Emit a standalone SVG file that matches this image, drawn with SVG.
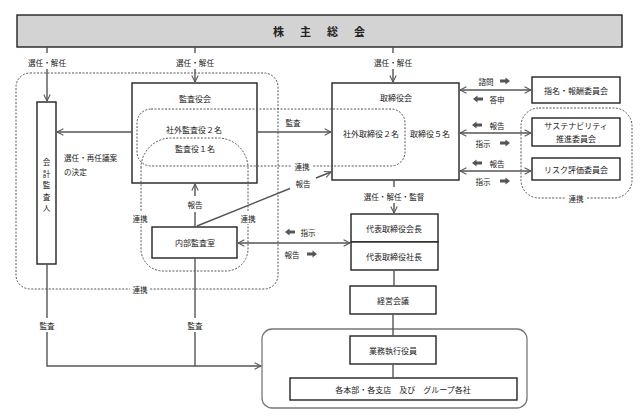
<svg xmlns="http://www.w3.org/2000/svg" width="640" height="416" viewBox="0 0 640 416">
<style>
text{font-family:"Noto Sans CJK JP","Noto Sans CJK SC",sans-serif;font-size:7.6px;fill:#222;text-anchor:middle;dominant-baseline:central}
.box{fill:#fff;stroke:#222;stroke-width:1.4}
.dot{fill:none;stroke:#555;stroke-width:1;stroke-dasharray:2,1.5}
.con{fill:none;stroke:#555;stroke-width:1.4}
.bg{fill:#fff}
.t{font-size:8px}
</style>
<defs>
<marker id="ah" viewBox="0 0 10 10" refX="9" refY="5" markerWidth="8" markerHeight="8" markerUnits="userSpaceOnUse" orient="auto-start-reverse">
<path d="M1,1 L9,5 L1,9" fill="none" stroke="#555" stroke-width="1.3"/>
</marker>
<path id="fa" d="M-5,-1.4 H0.5 V-3.6 L5,0 L0.5,3.6 V1.4 H-5 Z" fill="#555"/>
</defs>
<rect width="640" height="416" fill="#fff"/>

<!-- dotted groups -->
<g id="groups">
<rect class="dot" x="16" y="73" width="262" height="216" rx="14"/>
<rect class="bg" x="130" y="284" width="20" height="10"/>
<text x="140" y="289">連携</text>
<rect class="dot" x="521" y="108" width="111" height="90" rx="18"/>
<rect class="bg" x="566" y="193" width="20" height="10"/>
<text x="576" y="198">連携</text>
</g>

<g id="shareholders">
<rect x="17" y="15" width="605" height="32" fill="#d3d3d3" stroke="#222" stroke-width="1.4"/>
<text x="319" y="31" style="font-size:11px;font-weight:bold;letter-spacing:16px" dx="8">株主総会</text>
</g>

<g id="auditor">
<rect class="box" x="37" y="102" width="19" height="162"/>
<text x="46.5" y="161">会</text>
<text x="46.5" y="173">計</text>
<text x="46.5" y="184.5">監</text>
<text x="46.5" y="196">査</text>
<text x="46.5" y="207">人</text>
</g>

<g id="kansayakukai">
<rect class="box" x="132" y="83" width="125" height="100"/>
<text class="t" x="195" y="98">監査役会</text>
</g>

<g id="torishimariyakukai">
<rect class="box" x="332" y="83" width="127" height="97"/>
<text class="t" x="396" y="97">取締役会</text>
<text class="t" x="371" y="133">社外取締役２名</text>
<text class="t" x="430" y="133">取締役５名</text>
</g>

<g id="outside-group">
<rect class="dot" x="137" y="109" width="268" height="57" rx="14"/>
<rect class="bg" x="291" y="161" width="22" height="10"/>
<text x="302" y="166">連携</text>
<text class="t" x="194" y="129">社外監査役２名</text>
</g>

<g id="kansayaku1">
<path class="dot" d="M141,168 A30,30 0 0 1 171,138 L218,138 A30,30 0 0 1 248,168 L248,249 A22,22 0 0 1 226,271 L163,271 A22,22 0 0 1 141,249 Z"/>
<text class="t" x="195" y="148">監査役１名</text>
<rect class="bg" x="130" y="212" width="20" height="12"/>
<text x="140" y="218">連携</text>
<rect class="bg" x="238" y="212" width="20" height="12"/>
<text x="248" y="218">連携</text>
</g>

<g id="naibu">
<rect class="box" x="152" y="227" width="85" height="31"/>
<text class="t" x="195" y="242">内部監査室</text>
</g>

<g id="shimei">
<rect class="box" x="532" y="77" width="88" height="26"/>
<text class="t" x="576" y="90">指名・報酬委員会</text>
</g>
<g id="sustain">
<rect class="box" x="532" y="118" width="88" height="28"/>
<text class="t" x="576" y="125.5">サステナビリティ</text>
<text class="t" x="576" y="138">推進委員会</text>
</g>
<g id="risk">
<rect class="box" x="532" y="158" width="88" height="22"/>
<text class="t" x="576" y="169">リスク評価委員会</text>
</g>

<g id="daihyo">
<rect class="box" x="351" y="214" width="87" height="28"/>
<text class="t" x="394" y="228">代表取締役会長</text>
<rect class="box" x="351" y="242" width="87" height="28"/>
<text class="t" x="394" y="256">代表取締役社長</text>
</g>

<g id="keiei">
<rect class="box" x="350" y="286" width="86" height="28"/>
<text class="t" x="393" y="300">経営会議</text>
</g>

<g id="executive-area">
<rect x="262" y="329" width="265" height="79" rx="10" fill="none" stroke="#777" stroke-width="1.3"/>
</g>
<g id="gyomu">
<rect class="box" x="350" y="336" width="86" height="28"/>
<text class="t" x="393" y="350">業務執行役員</text>
</g>
<g id="honbu">
<rect class="box" x="290" y="378" width="227" height="22"/>
<text class="t" x="403" y="389">各本部・各支店　及び　グループ各社</text>
</g>

<g id="connectors">
<!-- from shareholders -->
<line class="con" x1="47" y1="47" x2="47" y2="53"/>
<text x="47" y="62">選任・解任</text>
<line class="con" x1="47" y1="69" x2="47" y2="101" marker-end="url(#ah)"/>
<line class="con" x1="195" y1="47" x2="195" y2="53"/>
<text x="195" y="62">選任・解任</text>
<line class="con" x1="195" y1="69" x2="195" y2="82" marker-end="url(#ah)"/>
<line class="con" x1="393" y1="47" x2="393" y2="53"/>
<text x="393" y="62">選任・解任</text>
<line class="con" x1="393" y1="69" x2="393" y2="82" marker-end="url(#ah)"/>

<!-- kansayakukai to auditor -->
<line class="con" x1="132" y1="132" x2="57" y2="132" marker-end="url(#ah)"/>
<text x="64" y="157" style="text-anchor:start">選任・再任議案</text>
<text x="64" y="171" style="text-anchor:start">の決定</text>

<!-- audit to board -->
<line class="con" x1="257" y1="132" x2="331" y2="132" marker-end="url(#ah)"/>
<text x="293" y="122">監査</text>

<!-- naibu report up -->
<line class="con" x1="195" y1="227" x2="195" y2="212"/>
<text x="195" y="204">報告</text>
<line class="con" x1="195" y1="196" x2="195" y2="184" marker-end="url(#ah)"/>

<!-- naibu report to board -->
<line class="con" x1="197" y1="226" x2="290" y2="188.5"/>
<text x="303" y="183">報告</text>
<line class="con" x1="316" y1="178" x2="331" y2="172" marker-end="url(#ah)"/>

<!-- board to committees -->
<line class="con" x1="460" y1="90" x2="531" y2="90" marker-start="url(#ah)" marker-end="url(#ah)"/>
<text x="486" y="81">諮問</text>
<use href="#fa" x="505" y="81"/>
<use href="#fa" transform="translate(478,99) scale(-1,1)"/>
<text x="497" y="99">答申</text>

<line class="con" x1="460" y1="133" x2="531" y2="133" marker-start="url(#ah)" marker-end="url(#ah)"/>
<use href="#fa" transform="translate(477,125) scale(-1,1)"/>
<text x="497" y="125">報告</text>
<text x="483" y="143">指示</text>
<use href="#fa" x="505" y="143"/>

<line class="con" x1="460" y1="171" x2="531" y2="171" marker-start="url(#ah)" marker-end="url(#ah)"/>
<use href="#fa" transform="translate(477,163) scale(-1,1)"/>
<text x="497" y="163">報告</text>
<text x="483" y="181">指示</text>
<use href="#fa" x="505" y="181"/>

<!-- board to representative -->
<line class="con" x1="394" y1="180" x2="394" y2="187"/>
<text x="394" y="196">選任・解任・監督</text>
<line class="con" x1="394" y1="203" x2="394" y2="213" marker-end="url(#ah)"/>

<!-- naibu <-> representative -->
<line class="con" x1="238" y1="243" x2="350" y2="243" marker-start="url(#ah)" marker-end="url(#ah)"/>
<use href="#fa" transform="translate(290,232) scale(-1,1)"/>
<text x="308" y="232">指示</text>
<text x="292" y="254">報告</text>
<use href="#fa" x="312" y="254"/>

<!-- chain -->
<line class="con" x1="394" y1="270" x2="394" y2="286"/>
<line class="con" x1="393" y1="314" x2="393" y2="336"/>
<line class="con" x1="393" y1="364" x2="393" y2="378"/>

<!-- audits to executive area -->
<line class="con" x1="47" y1="264" x2="47" y2="318"/>
<text x="47" y="325">監査</text>
<path class="con" d="M47,332 V366 H261" marker-end="url(#ah)"/>
<line class="con" x1="195" y1="258" x2="195" y2="318"/>
<text x="195" y="325">監査</text>
<line class="con" x1="195" y1="332" x2="195" y2="366"/>
</g>
</svg>
